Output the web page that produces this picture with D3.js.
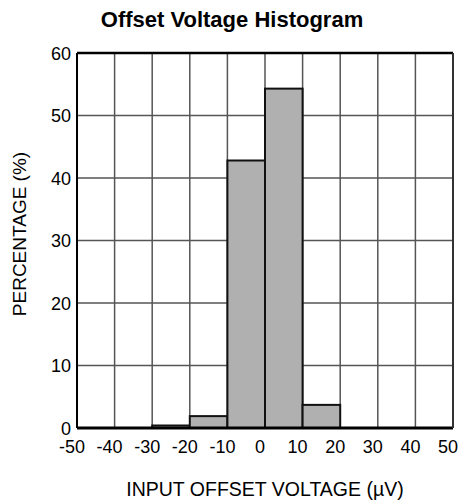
<!DOCTYPE html>
<html>
<head>
<meta charset="utf-8">
<script src="https://cdn.jsdelivr.net/npm/d3@7"></script>
<style>
  body { margin: 0; background: #fff; }
  text { font-family: "Liberation Sans", Arial, sans-serif; fill: #000; }
</style>
</head>
<body>
<div id="chart"></div>
<script>
"use strict";

// histogram bins (µV) and percentages
var binStart = [-50, -40, -30, -20, -10, 0, 10, 20, 30, 40];
var binPct = [0, 0, 0.4, 1.9, 42.8, 54.3, 3.7, 0, 0, 0];
var xTicks = [-50, -40, -30, -20, -10, 0, 10, 20, 30, 40, 50];
var yTicks = [0, 10, 20, 30, 40, 50, 60];

var width = 461, height = 501;
var margin = { top: 53, right: 8, bottom: 73, left: 77 };

var svg = d3.select("#chart")
  .append("svg")
  .attr("width", width)
  .attr("height", height);

var x = d3.scaleLinear()
  .domain([-50, 50])
  .range([margin.left, width - margin.right]);

var y = d3.scaleLinear()
  .domain([0, 60])
  .range([height - margin.bottom, margin.top]);

// grid
svg.append("g")
  .selectAll("line")
  .data(xTicks)
  .enter()
  .append("line")
  .attr("x1", d => x(d))
  .attr("x2", d => x(d))
  .attr("y1", y(60))
  .attr("y2", y(0))
  .attr("stroke", "#555")
  .attr("stroke-width", 1.5);

svg.append("g")
  .selectAll("line")
  .data(yTicks)
  .enter()
  .append("line")
  .attr("x1", x(-50))
  .attr("x2", x(50))
  .attr("y1", d => y(d))
  .attr("y2", d => y(d))
  .attr("stroke", "#555")
  .attr("stroke-width", 1.5);

// bars
svg.append("g")
  .selectAll("rect")
  .data(binStart.map((d, i) => ({ x0: d, pct: binPct[i] })).filter(d => d.pct > 0))
  .enter()
  .append("rect")
  .attr("x", d => x(d.x0))
  .attr("width", d => x(d.x0 + 10) - x(d.x0))
  .attr("y", d => y(d.pct))
  .attr("height", d => y(0) - y(d.pct))
  .attr("fill", "#b0b0b0")
  .attr("stroke", "#111")
  .attr("stroke-width", 2);

// frame
svg.append("line")
  .attr("x1", x(-50)).attr("x2", x(50))
  .attr("y1", y(60)).attr("y2", y(60))
  .attr("stroke", "#000").attr("stroke-width", 2.5);
svg.append("line")
  .attr("x1", x(-50)).attr("x2", x(50))
  .attr("y1", y(0)).attr("y2", y(0))
  .attr("stroke", "#000").attr("stroke-width", 3);
svg.append("line")
  .attr("x1", x(-50)).attr("x2", x(-50))
  .attr("y1", y(60)).attr("y2", y(0))
  .attr("stroke", "#000").attr("stroke-width", 2);
svg.append("line")
  .attr("x1", x(50)).attr("x2", x(50))
  .attr("y1", y(60)).attr("y2", y(0))
  .attr("stroke", "#333").attr("stroke-width", 2);

// tick labels
svg.append("g")
  .selectAll("text")
  .data(yTicks)
  .enter()
  .append("text")
  .attr("x", x(-50) - 6)
  .attr("y", d => y(d) + 6.5)
  .attr("text-anchor", "end")
  .style("font-size", "18px")
  .text(d => d);

svg.append("g")
  .selectAll("text")
  .data(xTicks)
  .enter()
  .append("text")
  .attr("x", d => x(d) - 5)
  .attr("y", y(0) + 25)
  .attr("text-anchor", "middle")
  .style("font-size", "18px")
  .text(d => d);

// titles
svg.append("text")
  .attr("x", 232)
  .attr("y", 27)
  .attr("text-anchor", "middle")
  .style("font-size", "22px")
  .style("font-weight", "bold")
  .text("Offset Voltage Histogram");

svg.append("text")
  .attr("x", 265)
  .attr("y", 496)
  .attr("text-anchor", "middle")
  .style("font-size", "19.5px")
  .text("INPUT OFFSET VOLTAGE (\u00b5V)");

svg.append("text")
  .attr("transform", "translate(26,234) rotate(-90)")
  .attr("text-anchor", "middle")
  .style("font-size", "19px")
  .text("PERCENTAGE (%)");
</script>
</body>
</html>
